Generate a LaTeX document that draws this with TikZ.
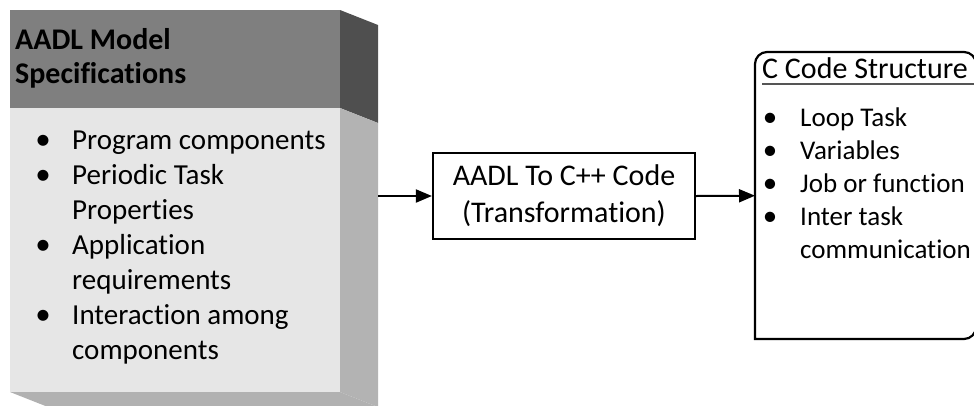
\documentclass[tikz,border=0pt]{standalone}
\usepackage{fontspec}
\setmainfont[Ligatures=NoCommon]{Carlito}
\usetikzlibrary{arrows.meta}

\definecolor{hdrface}{HTML}{7F7F7F}
\definecolor{hdrside}{HTML}{4F4F4F}
\definecolor{bodyface}{HTML}{E6E6E6}
\definecolor{bodyside}{HTML}{B3B3B3}
\definecolor{bottomface}{HTML}{B1B1B1}
\definecolor{rulegray}{HTML}{555555}

\begin{document}
\begin{tikzpicture}[x=1pt,y=1pt,
  spectitle/.style={inner sep=0pt, anchor=base west, font=\fontsize{30}{35}\selectfont\bfseries},
  specitem/.style={inner sep=0pt, anchor=base west, font=\fontsize{29}{35}\selectfont},
  specdot/.style={inner sep=0pt, anchor=base, font=\fontsize{31}{35}\selectfont},
  codeitem/.style={inner sep=0pt, anchor=base west, font=\fontsize{27}{33}\selectfont},
  codedot/.style={inner sep=0pt, anchor=base, font=\fontsize{29}{33}\selectfont},
  flow/.style={line width=2pt, -{Triangle[length=16pt,width=13pt]}},
  stepbox/.style={draw, line width=2.2pt, minimum width=262pt, minimum height=86pt,
    inner sep=0pt, align=center, font=\fontsize{30}{37}\selectfont}]
\useasboundingbox (0,0) rectangle (974,-405);
\clip (0,0) rectangle (974,-405);

% --- extruded specification block: front faces as nodes ---
\node (spec) [fill=bodyface, minimum width=330pt, minimum height=382pt,
  inner sep=0pt, anchor=north west] at (10,-10) {};
\node (spechead) [fill=hdrface, minimum width=330pt, minimum height=98pt,
  inner sep=0pt, anchor=north west] at (10,-10) {};
% side and bottom faces (depth 38,-15)
\fill[hdrside] (340,-10) -- (378,-25) -- (378,-123) -- (340,-108) -- cycle;
\fill[bodyside] (340,-108) -- (378,-123) -- (378,-407) -- (340,-392) -- cycle;
\fill[bottomface] (10,-392) -- (340,-392) -- (378,-407) -- (48,-407) -- cycle;
\coordinate (specout) at (378,-196);

\node[spectitle] (st1) at (15,-49) {AADL Model};
\node[spectitle] (st2) at (15,-83) {Specifications};

\node[specdot] (sd1) at (43,-149) {•};
\node[specitem] (si1) at (72,-149) {Program components};
\node[specdot] (sd2) at (43,-184) {•};
\node[specitem] (si2) at (72,-184) {Periodic Task};
\node[specitem] (si3) at (72,-219) {Properties};
\node[specdot] (sd3) at (43,-254) {•};
\node[specitem] (si4) at (72,-254) {Application};
\node[specitem] (si5) at (72,-289) {requirements};
\node[specdot] (sd4) at (43,-324) {•};
\node[specitem] (si6) at (72,-324) {Interaction among};
\node[specitem] (si7) at (72,-359) {components};

% --- transformation step ---
\node[stepbox] (xform) at (564,-196) {AADL To C++ Code\\(Transformation)};

% --- C code structure box ---
\node (ccode) [minimum width=221pt, minimum height=287pt, inner sep=0pt,
  anchor=north west] at (755,-52) {};
\draw[line width=2.2pt] (755,-339) -- (755,-64)
  arc[start angle=180, end angle=90, radius=12pt] -- (964,-52)
  arc[start angle=90, end angle=0, radius=12pt] -- (976,-327)
  arc[start angle=0, end angle=-90, radius=12pt] -- cycle;

\node (ct) [inner sep=0pt, anchor=base west, font=\fontsize{30}{35}\selectfont]
  at (762,-78) {C Code Structure};
\draw[rulegray, line width=1.5pt] (762,-84) -- (974,-84);

\node[codedot] (cd1) at (770,-126) {•};
\node[codeitem] (ci1) at (800,-126) {Loop Task};
\node[codedot] (cd2) at (770,-159) {•};
\node[codeitem] (ci2) at (800,-159) {Variables};
\node[codedot] (cd3) at (770,-192) {•};
\node[codeitem] (ci3) at (800,-192) {Job or function};
\node[codedot] (cd4) at (770,-225) {•};
\node[codeitem] (ci4) at (800,-225) {Inter task};
\node[codeitem] (ci5) at (800,-258) {communication};

% --- connectors ---
\draw[flow] (specout) -- (xform.west);
\draw[flow] (xform.east) -- (ccode.west);
\end{tikzpicture}
\end{document}
